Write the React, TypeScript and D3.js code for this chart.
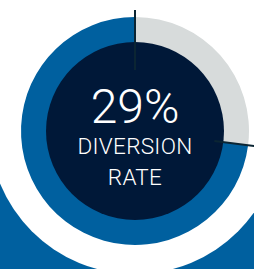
import React from 'react';
import * as d3 from 'd3';

// share of the ring (grey part starts at 12 o'clock)
const segmentNames = ['diverted', 'rest'];
const segmentValues = [27, 73];
const segmentColors = ['#d7dbdb', '#00609f'];
const bigLabel = '29%';
const subLabels = ['DIVERSION', 'RATE'];

const W = 254, H = 269;
const cx = 135, cy = 131;

export default function App() {
  const pie = d3.pie<number>().sort(null).value(d => d)(segmentValues);
  const arc = d3.arc<d3.PieArcDatum<number>>().innerRadius(86).outerRadius(114);

  // tick lines at the boundaries of the grey part
  const tick = (a: number, r0: number, r1: number) => {
    const s = Math.sin(a), c = -Math.cos(a);
    return { x1: cx + s * r0, y1: cy + c * r0, x2: cx + s * r1, y2: cy + c * r1 };
  };
  const t1 = tick(pie[0].startAngle, 61, 121);
  const t2 = tick(pie[0].endAngle, 80, 126);

  return (
    <svg width={W} height={H} style={{ position: 'fixed', left: 0, top: 0 }}>
      <rect x={0} y={0} width={W} height={H} fill="#ffffff" />
      <rect x={0} y={150} width={W} height={H - 150} fill="#00609f" />
      <circle cx={cx} cy={128} r={146} fill="#ffffff" />
      <g transform={`translate(${cx},${cy})`}>
        {pie.map((d, i) => (
          <path key={segmentNames[i]} d={arc(d) || ''} fill={segmentColors[i]} />
        ))}
        <circle r={89} fill="#001838" />
      </g>
      <line {...t1} stroke="#0b2533" strokeWidth={2} />
      <line {...t2} stroke="#0b2533" strokeWidth={2} />
      <g fill="#ffffff" textAnchor="middle" fontFamily="Roboto, sans-serif" fontWeight={300}>
        <text x={cx} y={123} fontSize={48}>{bigLabel}</text>
        <text x={cx} y={154} fontSize={22.5} letterSpacing={0.3}>{subLabels[0]}</text>
        <text x={cx} y={185} fontSize={22.5} letterSpacing={0.3}>{subLabels[1]}</text>
      </g>
    </svg>
  );
}
